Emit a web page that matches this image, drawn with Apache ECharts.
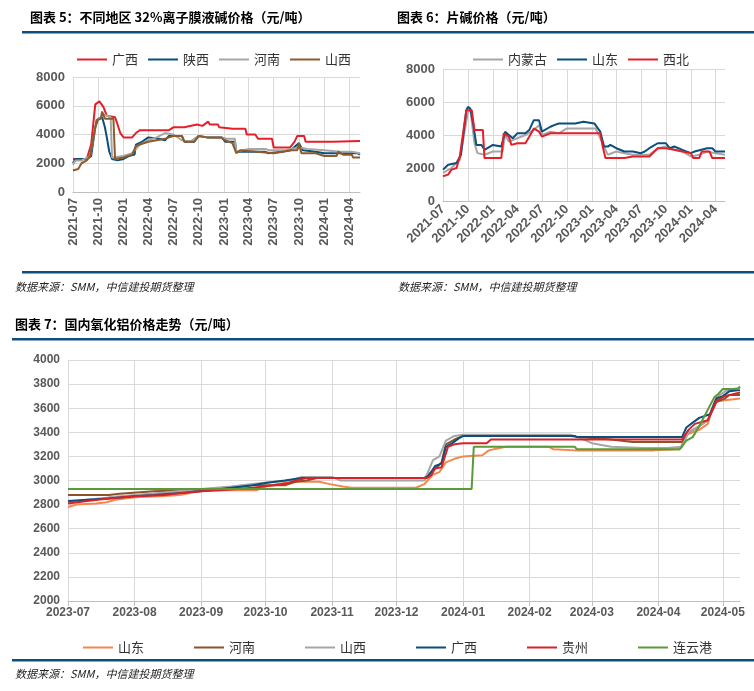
<!DOCTYPE html>
<html><head><meta charset="utf-8">
<script src="https://cdn.jsdelivr.net/npm/echarts@6/dist/echarts.min.js"></script>
<style>html,body{margin:0;padding:0;background:#fff}#c{width:754px;height:691px}</style>
</head><body><div id="c"></div>
<script>
// ---- Chart 5: 32% ion-membrane liquid caustic soda ----
const c5Names = ['广西','陕西','河南','山西'];
const c5Guangxi = [['2021-07-01',2300],['2021-08-20',2300],['2021-09-05',3300],['2021-09-20',6100],['2021-10-05',6300],['2021-10-20',5900],['2021-11-01',5300],['2021-12-01',5200],['2021-12-10',4700],['2021-12-20',4100],['2022-01-01',3800],['2022-02-01',3800],['2022-02-15',4100],['2022-03-01',4300],['2022-06-15',4300],['2022-07-01',4500],['2022-08-10',4500],['2022-08-15',4600],['2022-09-25',4700],['2022-10-15',4600],['2022-11-05',4900],['2022-11-10',4700],['2022-12-10',4700],['2022-12-15',4500],['2023-02-01',4400],['2023-03-20',4400],['2023-03-25',4000],['2023-04-25',4000],['2023-05-05',3700],['2023-06-25',3700],['2023-07-01',3100],['2023-08-30',3100],['2023-09-15',3500],['2023-09-25',3900],['2023-10-20',3900],['2023-10-25',3500],['2024-02-01',3500],['2024-02-05',3550],['2024-05-10',3550]];
const c5Shaanxi = [['2021-07-01',2000],['2021-07-10',2300],['2021-08-20',2300],['2021-09-05',2500],['2021-09-20',4500],['2021-10-01',5100],['2021-10-15',5200],['2021-10-25',4500],['2021-11-01',3800],['2021-11-10',2800],['2021-11-20',2300],['2021-12-10',2200],['2022-01-01',2300],['2022-01-20',2500],['2022-02-10',2600],['2022-02-15',3300],['2022-03-10',3500],['2022-04-01',3800],['2022-05-10',3700],['2022-06-01',3600],['2022-06-15',3900],['2022-08-01',3900],['2022-08-10',3500],['2022-09-15',3500],['2022-10-01',3900],['2022-11-01',3800],['2022-12-25',3800],['2023-01-05',3500],['2023-02-10',3500],['2023-02-15',2800],['2023-06-01',2800],['2023-06-10',2700],['2023-08-01',2800],['2023-09-01',2900],['2023-10-01',3400],['2023-10-15',2900],['2023-12-01',2800],['2024-01-01',2700],['2024-05-01',2700],['2024-05-10',2600]];
const c5Henan = [['2021-07-01',1900],['2021-07-10',2200],['2021-08-01',2200],['2021-09-01',2500],['2021-09-25',5000],['2021-10-10',5200],['2021-10-20',5400],['2021-11-15',5200],['2021-11-20',2400],['2022-01-01',2500],['2022-02-01',2700],['2022-03-01',3300],['2022-04-01',3600],['2022-05-01',3800],['2022-06-01',4100],['2022-07-01',4000],['2022-08-01',3600],['2022-09-01',3500],['2022-10-01',3900],['2022-11-01',3800],['2022-12-20',3800],['2023-01-10',3700],['2023-02-10',3700],['2023-02-15',2800],['2023-04-01',3000],['2023-06-01',3000],['2023-06-15',2900],['2023-08-15',2900],['2023-09-01',3000],['2023-10-01',3100],['2023-11-01',3000],['2024-01-01',2900],['2024-03-01',2800],['2024-04-10',2800],['2024-05-10',2700]];
const c5Shanxi = [['2021-07-01',1500],['2021-07-20',1600],['2021-08-01',2000],['2021-08-20',2200],['2021-09-01',2500],['2021-09-25',5000],['2021-10-10',5100],['2021-10-15',5600],['2021-10-25',5100],['2021-11-25',5100],['2021-12-01',2300],['2022-01-01',2400],['2022-02-01',2600],['2022-02-15',3200],['2022-03-01',3300],['2022-04-01',3500],['2022-05-01',3600],['2022-06-01',3700],['2022-06-15',3800],['2022-07-01',3900],['2022-08-01',3900],['2022-08-10',3500],['2022-09-15',3500],['2022-10-01',3900],['2022-11-01',3800],['2022-12-20',3800],['2023-01-05',3600],['2023-02-01',3400],['2023-02-15',2700],['2023-03-01',2900],['2023-05-01',2800],['2023-07-01',2700],['2023-08-01',2800],['2023-09-01',2900],['2023-09-25',2900],['2023-10-01',3400],['2023-10-10',2700],['2023-12-01',2700],['2024-01-01',2500],['2024-02-15',2500],['2024-02-20',2800],['2024-03-10',2600],['2024-04-10',2600],['2024-04-15',2400],['2024-05-10',2400]];

// ---- Chart 6: flake caustic soda ----
const c6Names = ['内蒙古','山东','西北'];
const c6Neimenggu = [['2021-07-01',1700],['2021-08-01',2000],['2021-09-01',2500],['2021-10-01',5400],['2021-10-10',5500],['2021-10-25',3500],['2021-11-05',2900],['2021-12-01',2800],['2022-01-01',3000],['2022-02-05',3000],['2022-02-15',4000],['2022-03-01',3600],['2022-04-01',3800],['2022-05-01',4000],['2022-06-01',4300],['2022-06-20',4600],['2022-07-01',4000],['2022-08-01',4200],['2022-09-01',4100],['2022-10-01',4400],['2023-01-15',4400],['2023-02-01',3800],['2023-03-01',2800],['2023-04-01',3000],['2023-05-01',2900],['2023-06-01',2800],['2023-08-01',2800],['2023-09-01',3200],['2023-10-01',3300],['2023-11-01',3100],['2023-12-01',3000],['2024-01-01',2700],['2024-02-01',2800],['2024-03-01',3000],['2024-04-01',2900],['2024-05-06',2800]];
const c6Shandong = [['2021-07-01',1900],['2021-07-20',2200],['2021-08-20',2300],['2021-09-05',2800],['2021-09-25',5500],['2021-10-01',5700],['2021-10-10',5600],['2021-10-20',4700],['2021-11-01',3400],['2021-11-20',3400],['2021-12-01',3100],['2022-01-01',3400],['2022-02-01',3300],['2022-02-15',4200],['2022-03-15',3800],['2022-04-01',4100],['2022-05-01',4100],['2022-05-15',4300],['2022-06-01',4900],['2022-06-20',4900],['2022-07-01',4200],['2022-08-01',4500],['2022-08-15',4600],['2022-09-01',4700],['2022-11-01',4700],['2022-12-01',4800],['2023-01-10',4700],['2023-02-01',4200],['2023-02-15',3300],['2023-03-01',3300],['2023-03-10',3400],['2023-04-01',3200],['2023-05-01',3000],['2023-06-01',3000],['2023-07-01',2900],['2023-07-15',3000],['2023-08-01',3200],['2023-09-01',3500],['2023-10-01',3500],['2023-10-15',3200],['2023-11-01',3300],['2023-12-01',3100],['2024-01-01',2900],['2024-01-15',3000],['2024-03-01',3200],['2024-03-20',3200],['2024-04-01',3000],['2024-05-06',3000]];
const c6Xibei = [['2021-07-01',1500],['2021-07-20',1600],['2021-08-01',1900],['2021-08-20',2000],['2021-09-01',2700],['2021-09-25',5500],['2021-10-15',5500],['2021-10-25',4300],['2021-11-25',4300],['2021-12-01',2600],['2022-02-01',2600],['2022-02-10',4100],['2022-03-01',3900],['2022-03-10',3400],['2022-04-01',3500],['2022-05-01',3500],['2022-05-15',3900],['2022-06-01',4400],['2022-06-20',4200],['2022-07-01',3900],['2022-08-01',4100],['2023-02-01',4100],['2023-02-10',3300],['2023-02-20',2600],['2023-05-01',2600],['2023-06-01',2700],['2023-08-01',2700],['2023-09-01',3200],['2023-10-01',3200],['2023-11-01',3100],['2023-12-01',3000],['2024-01-01',2900],['2024-01-10',2600],['2024-02-01',2600],['2024-02-10',3000],['2024-03-10',3000],['2024-03-20',2600],['2024-05-06',2600]];

// ---- Chart 7: domestic alumina ----
const c7Names = ['山东','河南','山西','广西','贵州','连云港'];
const c7Shandong = [['2023-07-01',2780],['2023-07-05',2800],['2023-07-14',2810],['2023-07-19',2820],['2023-07-23',2840],['2023-08-01',2860],['2023-08-13',2870],['2023-08-22',2880],['2023-08-28',2900],['2023-09-04',2920],['2023-09-27',2920],['2023-10-01',2950],['2023-10-06',2970],['2023-10-13',2990],['2023-10-26',2990],['2023-10-31',2970],['2023-11-06',2950],['2023-11-10',2940],['2023-12-10',2940],['2023-12-14',2970],['2023-12-18',3050],['2023-12-21',3070],['2023-12-24',3150],['2023-12-28',3180],['2024-01-01',3200],['2024-01-10',3210],['2024-01-13',3250],['2024-01-18',3270],['2024-01-21',3280],['2024-02-10',3280],['2024-02-12',3260],['2024-02-22',3250],['2024-03-30',3250],['2024-04-11',3260],['2024-04-14',3380],['2024-04-20',3420],['2024-04-24',3470],['2024-04-27',3650],['2024-04-29',3660],['2024-05-04',3670],['2024-05-09',3680]];
const c7Henan = [['2023-07-01',2880],['2023-07-20',2880],['2023-07-25',2890],['2023-08-10',2910],['2023-08-25',2920],['2023-09-15',2940],['2023-09-25',2960],['2023-10-10',2960],['2023-10-15',2990],['2023-10-20',3000],['2023-10-25',3020],['2023-12-14',3020],['2023-12-18',3080],['2023-12-22',3150],['2023-12-24',3300],['2023-12-28',3340],['2024-01-01',3370],['2024-02-20',3370],['2024-02-24',3360],['2024-03-10',3340],['2024-03-20',3320],['2024-04-12',3320],['2024-04-15',3400],['2024-04-20',3450],['2024-04-24',3500],['2024-04-28',3650],['2024-05-02',3680],['2024-05-04',3710],['2024-05-09',3710]];
const c7Shanxi = [['2023-07-01',2820],['2023-07-10',2840],['2023-07-20',2860],['2023-08-01',2880],['2023-08-15',2900],['2023-09-01',2930],['2023-09-15',2950],['2023-09-25',2970],['2023-10-05',2990],['2023-10-12',3000],['2023-10-18',3030],['2023-11-01',3030],['2023-11-05',3000],['2023-12-14',3000],['2023-12-18',3170],['2023-12-21',3200],['2023-12-24',3330],['2023-12-28',3370],['2024-01-01',3380],['2024-02-20',3380],['2024-02-25',3350],['2024-03-01',3310],['2024-03-10',3280],['2024-03-25',3270],['2024-04-05',3270],['2024-04-12',3280],['2024-04-15',3400],['2024-04-20',3450],['2024-04-24',3500],['2024-04-28',3690],['2024-05-02',3740],['2024-05-06',3760],['2024-05-09',3770]];
const c7Guangxi = [['2023-07-01',2830],['2023-07-10',2840],['2023-07-20',2850],['2023-08-01',2870],['2023-08-10',2880],['2023-08-25',2900],['2023-09-05',2920],['2023-09-15',2940],['2023-09-25',2960],['2023-10-01',2980],['2023-10-10',3000],['2023-10-18',3020],['2023-12-14',3020],['2023-12-16',3040],['2023-12-19',3120],['2023-12-22',3140],['2023-12-24',3280],['2023-12-27',3310],['2023-12-30',3350],['2024-01-01',3370],['2024-02-22',3370],['2024-02-23',3360],['2024-04-12',3360],['2024-04-14',3440],['2024-04-17',3480],['2024-04-20',3520],['2024-04-25',3550],['2024-04-28',3680],['2024-05-01',3700],['2024-05-04',3740],['2024-05-09',3750]];
const c7Guizhou = [['2023-07-01',2810],['2023-07-10',2830],['2023-07-20',2850],['2023-08-01',2870],['2023-08-15',2880],['2023-08-25',2900],['2023-09-01',2910],['2023-09-10',2920],['2023-09-25',2940],['2023-10-05',2960],['2023-10-12',2980],['2023-10-15',3000],['2023-10-20',3020],['2023-12-15',3020],['2023-12-17',3040],['2023-12-19',3100],['2023-12-22',3110],['2023-12-25',3280],['2023-12-28',3300],['2024-01-01',3310],['2024-01-12',3310],['2024-01-14',3340],['2024-04-12',3340],['2024-04-15',3420],['2024-04-18',3470],['2024-04-24',3500],['2024-04-28',3660],['2024-05-02',3700],['2024-05-09',3730]];
const c7Lianyungang = [['2023-07-01',2930],['2024-01-05',2930],['2024-01-06',3280],['2024-02-22',3280],['2024-02-23',3260],['2024-04-11',3260],['2024-04-14',3330],['2024-04-17',3360],['2024-04-20',3450],['2024-04-27',3690],['2024-04-29',3720],['2024-05-01',3760],['2024-05-08',3760],['2024-05-09',3780]];

const c5Ticks = ['2021-07','2021-10','2022-01','2022-04','2022-07','2022-10','2023-01','2023-04','2023-07','2023-10','2024-01','2024-04'];
const c7Ticks = ['2023-07','2023-08','2023-09','2023-10','2023-11','2023-12','2024-01','2024-02','2024-03','2024-04','2024-05'];

const ts = s => Date.UTC(+s.slice(0,4), +s.slice(5,7)-1, s.length>7 ? +s.slice(8,10) : 1);
const fmt = v => { const d=new Date(v); return d.getUTCFullYear()+'-'+String(d.getUTCMonth()+1).padStart(2,'0'); };
const F = '"Liberation Sans", Arial, sans-serif';
const CJK = '"Noto Sans CJK SC", sans-serif';
const BLUE = '#0b4f7c';
const SEP = '\u0007';

function xAxis(gi, ticks, min, max, rot){
  const cv = ticks.map(ts);
  return {type:'value', gridIndex:gi, min:ts(min), max:ts(max),
    axisLine:{show:true,lineStyle:{color:'#bfbfbf'}},
    axisTick:{show:gi===2, customValues:cv, lineStyle:{color:'#bfbfbf'}},
    axisLabel:{customValues:cv, formatter:fmt, rotate:rot, color:'#595959', fontFamily:F, fontWeight:'bold', fontSize:gi===2?12:13, margin:6, hideOverlap:false},
    splitLine:{show:true, customValues:cv, lineStyle:{color:'#d9d9d9'}}};
}
function yAxis(gi, min, max, interval){
  return {type:'value', gridIndex:gi, min, max, interval,
    axisLine:{show:false}, axisTick:{show:false},
    axisLabel:{formatter:v=>String(v), color:'#595959', fontFamily:F, fontWeight:'bold', fontSize:gi===2?12:13},
    splitLine:{lineStyle:{color:'#d9d9d9'}}};
}
function line(name, data, color, xi, w){
  return {type:'line', name:name+SEP+xi, data:data.map(p=>[ts(p[0]),p[1]]), xAxisIndex:xi, yAxisIndex:xi, showSymbol:false, symbol:'none',
    lineStyle:{color, width:w||2}, itemStyle:{color}, animation:false};
}
const leg = (names, xi, left, top, gap) => ({data:names.map(n=>n+SEP+xi), left, top, itemWidth:30, itemHeight:2, itemGap:gap, icon:'rect',
  formatter:n=>n.split(SEP)[0], textStyle:{fontFamily:CJK, fontSize:xi===2?13:13, color:'#333'}});
const rule = (x1,x2,y) => ({type:'rect', shape:{x:x1,y:y,width:x2-x1,height:2.5}, style:{fill:BLUE}});
const txt = (x,y,t,opt) => ({type:'text', x, y, style:Object.assign({text:t, fill:'#000', font:'bold 13px '+CJK}, opt||{})});
const src = (x,y) => txt(x,y,'数据来源：SMM，中信建投期货整理',{font:'italic 11px "Noto Sans CJK SC", serif', fill:'#222'});

const chart = echarts.init(document.getElementById('c'));
chart.setOption({
  animation:false,
  grid:[
    {left:73, top:77, width:287, height:115},
    {left:443, top:69, width:282, height:132},
    {left:68, top:360, width:672, height:241}
  ],
  xAxis:[
    xAxis(0, c5Ticks, '2021-07-01', '2024-05-10', 90),
    xAxis(1, c5Ticks, '2021-07-01', '2024-05-06', 45),
    xAxis(2, c7Ticks, '2023-07-01', '2024-05-09', 0)
  ],
  yAxis:[ yAxis(0,0,8000,2000), yAxis(1,0,8000,2000), yAxis(2,2000,4000,200) ],
  legend:[ leg(c5Names,0,72,48,10), leg(c6Names,1,468,48,10), leg(c7Names,2,78,636,50) ],
  graphic:[
    txt(30,11,'图表 5：不同地区 32%离子膜液碱价格（元/吨）'),
    txt(397,11,'图表 6：片碱价格（元/吨）'),
    txt(15,318,'图表 7：国内氧化铝价格走势（元/吨）'),
    rule(22,377,31), rule(377,754,31), rule(22,377,271), rule(377,754,271),
    rule(12,754,338), rule(12,754,659),
    src(15,281), src(398,281), src(15,668)
  ],
  series:[
    line('广西', c5Guangxi, '#e3202a', 0),
    line('陕西', c5Shaanxi, BLUE, 0),
    line('河南', c5Henan, '#a6a6a6', 0),
    line('山西', c5Shanxi, '#8e5a2a', 0),
    line('内蒙古', c6Neimenggu, '#a6a6a6', 1),
    line('山东', c6Shandong, BLUE, 1),
    line('西北', c6Xibei, '#e3202a', 1),
    line('山东', c7Shandong, '#f4874b', 2),
    line('河南', c7Henan, '#8c5228', 2),
    line('山西', c7Shanxi, '#a6a6a6', 2),
    line('广西', c7Guangxi, BLUE, 2),
    line('贵州', c7Guizhou, '#d7222b', 2),
    line('连云港', c7Lianyungang, '#5a9a3a', 2)
  ]
});
</script></body></html>
